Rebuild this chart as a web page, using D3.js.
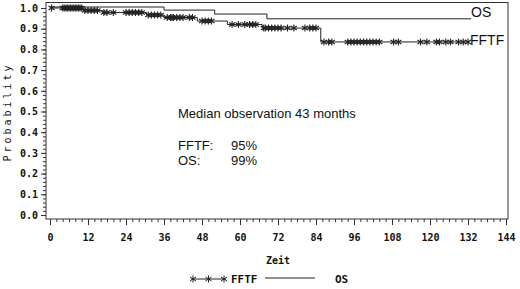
<!DOCTYPE html>
<html>
<head>
<meta charset="utf-8">
<script src="https://cdn.jsdelivr.net/npm/d3@7"></script>
<style>
  body { margin: 0; background: #fff; }
  svg { display: block; }
</style>
</head>
<body>
<div id="chart"></div>
<script>
// Kaplan-Meier steps (months, survival proportion)
const fftfTimes = [0, 10.5, 16.5, 30.5, 36, 46.5, 56, 67, 85.5, 132];
const fftfValues = [1, 0.988, 0.978, 0.966, 0.954, 0.937, 0.92, 0.903, 0.836, 0.836];
const osTimes = [0, 36, 52, 68.5, 133];
const osValues = [1, 0.985, 0.966, 0.943, 0.943];

// censored observations on FFTF curve
const fftfCensored = [
    0.5, 4, 4.5, 5, 5.5, 6, 6.5, 7, 7.5, 8, 8.5, 9, 9.5, 10, 11, 12, 13, 14, 15,
    17, 18, 20, 24, 25, 26, 27, 28, 29,
    31, 32, 33, 34, 35,
    37, 38, 38.5, 39, 40, 41, 42, 44, 45,
    48, 49, 50, 51,
    57.5, 59.5, 61.5, 63, 64, 65,
    67.5, 68, 69, 70, 71, 72, 73, 75, 77, 80.5, 82, 83, 84,
    86.5, 88, 89, 94, 95, 96, 97, 98, 99, 100, 101, 102, 103, 104,
    108.5, 110, 117, 119, 122, 123, 125, 126.5, 129, 130.5, 132
];

const xTicks = d3.range(0, 145, 12);
const yTicks = d3.range(0, 1.01, 0.1);

const width = 520, height = 289;

const svg = d3.select("#chart").append("svg")
    .attr("width", width)
    .attr("height", height);

const x = d3.scaleLinear().domain([0, 144]).range([50, 506]);
const y = d3.scaleLinear().domain([0, 1]).range([215, 8]);

const monoFont = "'DejaVu Sans Mono', monospace";
const ink = "#111";

// frame (axes line + top/right border)
svg.append("rect")
    .attr("x", 46).attr("y", 2.5)
    .attr("width", 462).attr("height", 216.5)
    .attr("fill", "none")
    .attr("stroke", "#333")
    .attr("stroke-width", 1);

// x axis minor + major
const xAxisG = svg.append("g").attr("transform", "translate(0,219)");
xAxisG.append("g")
    .call(d3.axisBottom(x).tickValues(d3.range(0, 145, 2)).tickSize(3).tickFormat(""))
    .call(g => g.select(".domain").remove());
xAxisG.append("g")
    .call(d3.axisBottom(x).tickValues(xTicks).tickSize(6).tickPadding(9))
    .call(g => g.select(".domain").remove())
    .call(g => g.selectAll("text")
        .attr("fill", ink)
        .style("font-family", monoFont)
        .style("font-weight", "bold")
        .style("font-size", "10px"));

// y axis minor + major
const yAxisG = svg.append("g").attr("transform", "translate(46,0)");
yAxisG.append("g")
    .call(d3.axisLeft(y).tickValues(d3.range(0, 1.001, 0.02)).tickSize(3).tickFormat(""))
    .call(g => g.select(".domain").remove());
yAxisG.append("g")
    .call(d3.axisLeft(y).tickValues(yTicks).tickSize(5).tickPadding(3).tickFormat(d3.format(".1f")))
    .call(g => g.select(".domain").remove())
    .call(g => g.selectAll("text")
        .attr("fill", ink)
        .style("font-family", monoFont)
        .style("font-weight", "bold")
        .style("font-size", "10px"));

svg.selectAll(".tick line").attr("stroke", "#333");

// Kurven
const line = d3.line()
    .x(d => x(d[0]))
    .y(d => y(d[1]))
    .curve(d3.curveStepAfter);

const osData = osTimes.map((t, i) => [t, osValues[i]]);
const fftfData = fftfTimes.map((t, i) => [t, fftfValues[i]]);

svg.append("path")
    .datum(osData)
    .attr("d", line)
    .attr("fill", "none")
    .attr("stroke", "#222")
    .attr("stroke-width", 1)
    .attr("transform", "translate(0,-1)");

svg.append("path")
    .datum(fftfData)
    .attr("d", line)
    .attr("fill", "none")
    .attr("stroke", "#222")
    .attr("stroke-width", 1);

// censor marks
const star = "M0,-3.5V3.5M-3,-2L3,2M-3,2L3,-2";
const bis = d3.bisector(d => d).right;
const survAt = t => fftfValues[Math.max(0, bis(fftfTimes, t) - 1)];

svg.append("g")
    .selectAll("path")
    .data(fftfCensored)
    .join("path")
    .attr("d", star)
    .attr("transform", d => `translate(${x(d)},${y(survAt(d))})`)
    .attr("fill", "none")
    .attr("stroke", "#222")
    .attr("stroke-width", 1.1);

// curve labels
svg.append("text")
    .attr("x", 471).attr("y", 17)
    .style("font-family", "Arial, 'Liberation Sans', sans-serif")
    .style("font-size", "14px")
    .attr("fill", ink)
    .text("OS");
svg.append("text")
    .attr("x", 470).attr("y", 45)
    .style("font-family", "Arial, 'Liberation Sans', sans-serif")
    .style("font-size", "14px")
    .attr("fill", ink)
    .text("FFTF");

// annotation
const note = svg.append("g")
    .style("font-family", "Arial, 'Liberation Sans', sans-serif")
    .style("font-size", "13px")
    .attr("fill", ink);
note.append("text").attr("x", 178).attr("y", 118).text("Median observation 43 months");
note.append("text").attr("x", 178).attr("y", 150).text("FFTF:");
note.append("text").attr("x", 231).attr("y", 150).text("95%");
note.append("text").attr("x", 178).attr("y", 165).text("OS:");
note.append("text").attr("x", 231).attr("y", 165).text("99%");

// axis titles
svg.append("text")
    .attr("x", 278).attr("y", 264)
    .attr("text-anchor", "middle")
    .style("font-family", monoFont)
    .style("font-weight", "bold")
    .style("font-size", "10px")
    .attr("fill", ink)
    .text("Zeit");

svg.append("text")
    .attr("transform", "translate(11,112) rotate(-90)")
    .attr("text-anchor", "middle")
    .style("font-family", monoFont)
    .style("font-size", "10px")
    .style("letter-spacing", "3px")
    .attr("fill", ink)
    .text("Probability");

// legend
const leg = svg.append("g");
leg.append("line")
    .attr("x1", 191).attr("x2", 226).attr("y1", 279).attr("y2", 279)
    .attr("stroke", "#222");
leg.selectAll("path.lg")
    .data([193, 208.5, 224])
    .join("path")
    .attr("class", "lg")
    .attr("d", star)
    .attr("transform", d => `translate(${d},279)`)
    .attr("fill", "none")
    .attr("stroke", "#222");
leg.append("text")
    .attr("x", 231).attr("y", 283)
    .style("font-family", monoFont)
    .style("font-weight", "bold")
    .style("font-size", "11px")
    .attr("fill", ink)
    .text("FFTF");
leg.append("line")
    .attr("x1", 265).attr("x2", 315).attr("y1", 278).attr("y2", 278)
    .attr("stroke", "#222");
leg.append("text")
    .attr("x", 335).attr("y", 283)
    .style("font-family", monoFont)
    .style("font-weight", "bold")
    .style("font-size", "11px")
    .attr("fill", ink)
    .text("OS");
</script>
</body>
</html>
